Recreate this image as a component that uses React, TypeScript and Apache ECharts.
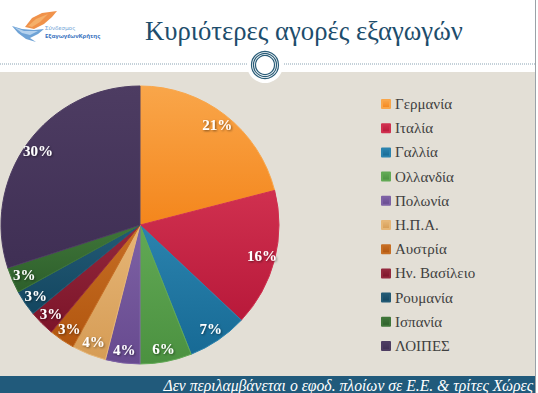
import React, { useEffect, useRef } from "react";
import * as echarts from "echarts";

const categories = [
  "Γερμανία",
  "Ιταλία",
  "Γαλλία",
  "Ολλανδία",
  "Πολωνία",
  "Η.Π.Α.",
  "Αυστρία",
  "Ην. Βασίλειο",
  "Ρουμανία",
  "Ισπανία",
  "ΛΟΙΠΕΣ",
];
const shares = [21, 16, 7, 6, 4, 4, 3, 3, 3, 3, 30];
const baseColors = [
  "#f4861c",
  "#b8193a",
  "#176a95",
  "#4b9140",
  "#674a8f",
  "#d69c55",
  "#b2560f",
  "#7c1429",
  "#134660",
  "#2d5f2b",
  "#3f2f54",
];
const lightColors = [
  "#f9a64a",
  "#d0304f",
  "#2b83ae",
  "#62a955",
  "#7e62a5",
  "#e6b677",
  "#c66e24",
  "#93283c",
  "#235a75",
  "#3f7539",
  "#4d3c62",
];

const titleText = "Κυριότερες αγορές εξαγωγών";
const footnoteText = "Δεν περιλαμβάνεται ο εφοδ. πλοίων σε Ε.Ε. & τρίτες Χώρες";
const serif = "Liberation Serif";

export default function App() {
  const ref = useRef<HTMLDivElement>(null);
  useEffect(() => {
    const chart = echarts.init(ref.current!, null, { renderer: "svg" });
    const pieData = categories.map((name, i) => ({
      name,
      value: shares[i],
      itemStyle: {
        color: {
          type: "linear",
          x: 0,
          y: 0,
          x2: 0,
          y2: 1,
          colorStops: [
            { offset: 0, color: lightColors[i] },
            { offset: 1, color: baseColors[i] },
          ],
        },
        borderColor: lightColors[i],
        borderWidth: 1,
      },
    }));
    const labelData = categories.map((name, i) => ({
      name,
      value: shares[i],
      itemStyle: { color: "rgba(0,0,0,0)" },
    }));
    chart.setOption({
      animation: false,
      backgroundColor: "#ffffff",
      color: baseColors,
      textStyle: { fontFamily: serif },
      graphic: [
        { type: "rect", z: -10, silent: true, shape: { x: 0, y: 72, width: 535, height: 304 }, style: { fill: "#e3dfd6" } },
        { type: "line", z: -9, silent: true, shape: { x1: 0, y1: 64, x2: 535, y2: 64 }, style: { stroke: "#8aa3b3", lineWidth: 1, lineDash: [1, 1] } },
        { type: "line", z: -9, silent: true, shape: { x1: 535.5, y1: 0, x2: 535.5, y2: 393 }, style: { stroke: "#9aa2a8", lineWidth: 1 } },
        { type: "rect", z: -8, silent: true, shape: { x: 0, y: 376, width: 535, height: 17 }, style: { fill: "#215a7b" } },
        { type: "circle", z: -7, silent: true, shape: { cx: 265, cy: 65, r: 18 }, style: { fill: "#ffffff" } },
        { type: "circle", z: -6, silent: true, shape: { cx: 265, cy: 65, r: 13.5 }, style: { fill: "none", stroke: "#2a5d78", lineWidth: 1.2 } },
        { type: "circle", z: -6, silent: true, shape: { cx: 265, cy: 65, r: 11.5 }, style: { fill: "none", stroke: "#2a5d78", lineWidth: 1.2 } },
        { type: "circle", z: -6, silent: true, shape: { cx: 265, cy: 65, r: 9.5 }, style: { fill: "none", stroke: "#2a5d78", lineWidth: 1.2 } },
        // logo
        { type: "polygon", z: -5, silent: true, shape: { points: [[25, 27], [32, 18], [42, 13], [57, 11], [52, 17], [44, 24], [34, 29]] }, style: { fill: "#f0924a" } },
        { type: "polygon", z: -5, silent: true, shape: { points: [[28, 26], [36, 19], [48, 14], [40, 22], [32, 27]] }, style: { fill: "#f5b06a" } },
        { type: "polygon", z: -5, silent: true, shape: { points: [[12, 26], [22, 29], [34, 30], [44, 29], [38, 34], [30, 38], [36, 42], [26, 39], [18, 33]] }, style: { fill: "#6fa3d6" } },
        { type: "polygon", z: -5, silent: true, shape: { points: [[14, 27], [24, 31], [38, 31], [30, 35], [22, 33]] }, style: { fill: "#b5d2ee" } },
        { type: "text", z: -4, silent: true, left: 45, top: 25, style: { text: "Σύνδεσμος", fill: "#6fa3d6", font: "6px Noto Sans" } },
        { type: "text", z: -4, silent: true, left: 45, top: 33, style: { text: "ΕξαγωγέωνΚρήτης", fill: "#3a73c0", font: "bold 6px Noto Sans" } },
        { type: "text", z: 5, silent: true, left: 145, top: 17, style: { text: titleText, fill: "#1d4d6c", font: "26.7px Liberation Serif" } },
        { type: "text", z: 5, silent: true, right: 5, top: 377, style: { text: footnoteText, fill: "#ffffff", font: "italic 15.7px Liberation Serif" } },
      ],
      legend: {
        orient: "vertical",
        left: 376,
        top: 91,
        itemWidth: 8,
        itemHeight: 8,
        itemGap: 8.2,
        icon: "rect",
        data: categories,
        textStyle: { color: "#404040", fontSize: 15, lineHeight: 16, fontFamily: serif },
      },
      series: [
        {
          type: "pie",
          center: [140, 225],
          radius: [0, 139],
          startAngle: 90,
          clockwise: true,
          label: { show: false },
          labelLine: { show: false },
          data: pieData,
        },
        {
          type: "pie",
          center: [140, 225],
          radius: [100, 146],
          startAngle: 90,
          clockwise: true,
          silent: true,
          legendHoverLink: false,
          label: {
            show: true,
            position: "inside",
            formatter: "{c}%",
            color: "#ffffff",
            fontSize: 15,
            fontWeight: "bold",
            fontFamily: serif,
            textShadowColor: "rgba(0,0,0,0.5)",
            textShadowBlur: 2,
            textShadowOffsetX: 1,
            textShadowOffsetY: 1,
          },
          labelLine: { show: false },
          data: labelData,
        },
      ],
    });
    return () => chart.dispose();
  }, []);
  return (
    <div
      ref={ref}
      style={{ position: "fixed", left: 0, top: 0, width: 538, height: 393 }}
    />
  );
}
